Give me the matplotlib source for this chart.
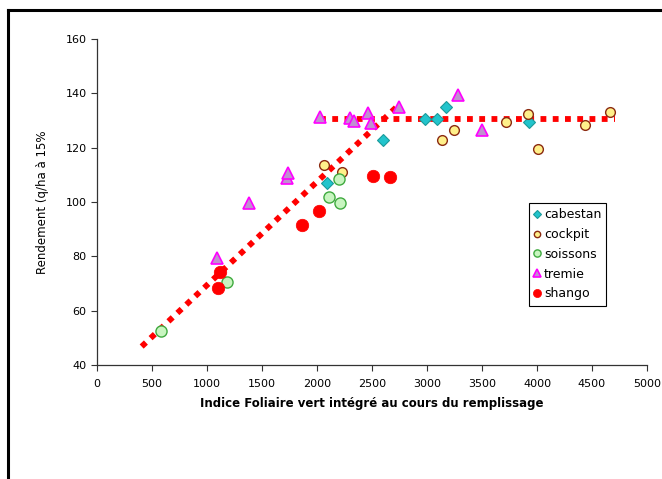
import matplotlib
matplotlib.use("Agg")
import matplotlib.pyplot as plt
from matplotlib.lines import Line2D

plt.rcParams['font.family'] = ['Liberation Sans Narrow', 'DejaVu Sans']

# Data
cabestan_x = [2090, 2597, 2982, 3088, 3170, 3930]
cabestan_y = [107, 122.8, 130.4, 130.4, 135.1, 129.3]

cockpit_x = [2064, 2224, 3133, 3245, 3718, 3921, 4012, 4436, 4664]
cockpit_y = [113.6, 111.2, 122.8, 126.5, 129.3, 132.3, 119.4, 128.3, 133.2]

soissons_x = [579, 1185, 2112, 2209, 2203]
soissons_y = [52.6, 70.4, 101.7, 99.8, 108.4]

tremie_x = [1094, 1385, 1724, 1739, 2027, 2300, 2336, 2467, 2488, 2748, 3285, 3497]
tremie_y = [79.3, 99.5, 108.7, 110.6, 131.2, 130.8, 130.0, 132.6, 129.2, 135.1, 139.4, 126.5]

shango_x = [1118, 1097, 1866, 2021, 2506, 2664]
shango_y = [74.1, 68.2, 91.5, 96.7, 109.6, 109.1]

# Trend lines (endpoints)
trend1_x = [406, 2724]
trend1_y = [46.8, 135.0]
trend2_x = [2027, 4709]
trend2_y = [130.4, 130.4]

x_ticks = [0, 500, 1000, 1500, 2000, 2500, 3000, 3500, 4000, 4500, 5000]
y_ticks = [40, 60, 80, 100, 120, 140, 160]

W, H = 662, 479
fig = plt.figure(figsize=(W / 100, H / 100), dpi=100)
ax = fig.add_axes([97 / W, 1 - 365 / H, (647 - 97) / W, (365 - 39) / H])

# Frame lines around the figure (left and top)
fig.add_artist(Line2D([8 / W, 8 / W], [0, 1 - 10 / H], color='black', lw=2.2, transform=fig.transFigure))
fig.add_artist(Line2D([8 / W, 1], [1 - 10 / H, 1 - 10 / H], color='black', lw=2.2, transform=fig.transFigure))

dot = dict(color='#ff0000', lw=4.2, linestyle=(0, (1, 1.1)), dash_capstyle='butt', zorder=2)
ax.plot(trend1_x, trend1_y, **dot)
ax.plot(trend2_x, trend2_y, **dot)

ax.plot(cabestan_x, cabestan_y, linestyle='none', marker='D', ms=6.5, mfc='#22c4cc', mec='#1a9a9a', mew=0.8, zorder=3, label='cabestan')
ax.plot(cockpit_x, cockpit_y, linestyle='none', marker='o', ms=7, mfc='#fff08a', mec='#8b2a10', mew=1.0, zorder=3, label='cockpit')
ax.plot(soissons_x, soissons_y, linestyle='none', marker='o', ms=8, mfc='#c8f5c0', mec='#3faa3f', mew=1.0, zorder=3, label='soissons')
ax.plot(tremie_x, tremie_y, linestyle='none', marker='^', ms=8, mfc='#c090d0', mec='#ff00ff', mew=1.2, zorder=3, label='tremie')
ax.plot(shango_x, shango_y, linestyle='none', marker='o', ms=9, mfc='#ff0000', mec='#ff0000', mew=0.5, zorder=3, label='shango')

ax.set_xlim(0, 5000)
ax.set_ylim(40, 160)
ax.set_xticks(x_ticks)
ax.set_yticks(y_ticks)
ax.set_xticklabels([str(v) for v in x_ticks])
ax.set_yticklabels([str(v) for v in y_ticks])
ax.tick_params(axis='both', labelsize=8, length=4, width=0.8, colors='#333333', labelcolor='black', direction='out')
ax.tick_params(axis='x', pad=6)

for s in ['top', 'right']:
    ax.spines[s].set_visible(False)
for s in ['left', 'bottom']:
    ax.spines[s].set_color('#333333')
    ax.spines[s].set_linewidth(0.9)

ax.set_xlabel('Indice Foliaire vert intégré au cours du remplissage', fontsize=8.5, fontweight='bold', labelpad=6)
ax.set_ylabel('Rendement (q/ha à 15%', fontsize=8.5, labelpad=12)

leg = ax.legend(loc='upper left', bbox_to_anchor=(529 / W, 1 - 203 / H), bbox_transform=fig.transFigure,
                fontsize=9, frameon=True, fancybox=False, edgecolor='black', framealpha=1,
                handlelength=0.5, handletextpad=0.3, borderpad=0.4, labelspacing=0.55, markerscale=0.65,
                borderaxespad=0)
leg.get_frame().set_linewidth(0.8)
for t in leg.get_texts():
    t.set_fontfamily(['DejaVu Sans'])

fig.savefig('out.png', dpi=100)
